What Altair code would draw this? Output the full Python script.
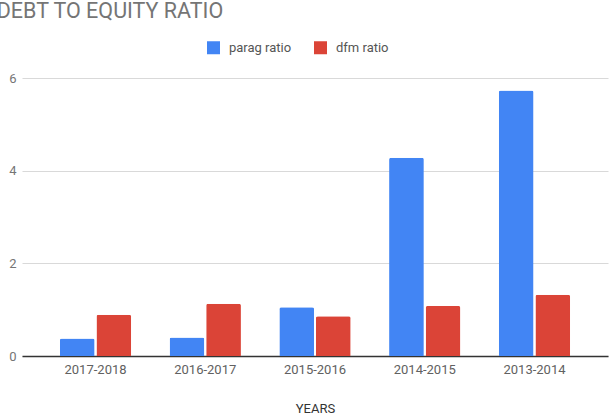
import altair as alt
import pandas as pd

years = ["2017-2018", "2016-2017", "2015-2016", "2014-2015", "2013-2014"]
parag = [0.38, 0.40, 1.05, 4.28, 5.73]
dfm = [0.89, 1.13, 0.86, 1.08, 1.32]
series = ["parag ratio", "dfm ratio"]
colors = ["#4285F4", "#DB4437"]

rows = []
for i, yr in enumerate(years):
    rows.append({"year": yr, "series": series[0], "value": parag[i]})
    rows.append({"year": yr, "series": series[1], "value": dfm[i]})
df = pd.DataFrame(rows)

chart = alt.Chart(df).mark_bar(cornerRadiusTopLeft=2, cornerRadiusTopRight=2).encode(
    x=alt.X("year:N", sort=years, title="YEARS",
            scale=alt.Scale(paddingInner=0.35, paddingOuter=0.345),
            axis=alt.Axis(labelAngle=0, ticks=False, domainColor="#333333", domainWidth=1.5,
                          labelPadding=7, labelColor="#616161", labelFontSize=13,
                          titleFontSize=13, titleFontWeight="normal", titleColor="#333333",
                          titlePadding=26)),
    xOffset=alt.XOffset("series:N", sort=series, scale=alt.Scale(paddingInner=0.05)),
    y=alt.Y("value:Q", title=None, scale=alt.Scale(domain=[0, 6]),
            axis=alt.Axis(values=[0, 2, 4, 6], domain=False, ticks=False, gridColor="#d9d9d9",
                          labelPadding=6, labelColor="#757575", labelFontSize=13)),
    color=alt.Color("series:N", sort=series, scale=alt.Scale(domain=series, range=colors),
                    legend=alt.Legend(title=None, orient="none", legendX=185, legendY=-37,
                                      direction="horizontal", symbolType="square", symbolSize=169,
                                      symbolStrokeWidth=0, labelFontSize=13, labelColor="#555555",
                                      columnPadding=22, labelOffset=9)),
).properties(
    width=586, height=278,
    title=alt.TitleParams("DEBT TO EQUITY RATIO", anchor="start", dx=-12, fontSize=21.5,
                          fontWeight="normal", color="#757575", font="Roboto", offset=19),
    autosize=alt.AutoSizeParams(type="none"),
    padding={"left": 22, "top": 78, "right": 8, "bottom": 64},
).configure(font="Roboto").configure_view(stroke=None)

chart.save("out.html", embed_options={"renderer": "svg", "actions": False})
